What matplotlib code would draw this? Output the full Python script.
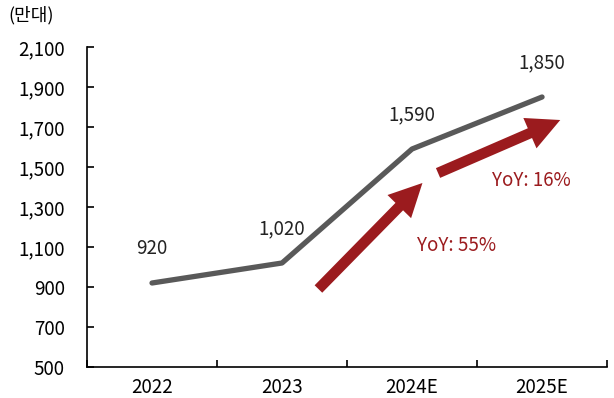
import matplotlib as mpl
mpl.use('Agg')
import matplotlib.pyplot as plt
from matplotlib.patches import FancyArrowPatch

plt.rcParams['font.family'] = ['Noto Sans CJK KR', 'DejaVu Sans']
plt.rcParams['font.weight'] = 'light'

years = ['2022', '2023', '2024E', '2025E']
units = [920, 1020, 1590, 1850]
yoy_labels = ['YoY: 55%', 'YoY: 16%']

line_color = '#595959'
arrow_color = '#9B1B1E'
fs = 13.5

fig = plt.figure(figsize=(6.14, 3.98), dpi=100)
ax = fig.add_axes([0.1417, 0.0779, 0.847, 0.804])

x = list(range(len(years)))
ax.plot(x, units, color=line_color, lw=3.8, solid_capstyle='round', solid_joinstyle='round')

for xi, v in zip(x, units):
    ax.annotate(f'{v:,}', (xi, v), xytext=(0, 17), textcoords='offset points',
                ha='center', va='bottom', fontsize=fs, color='#222222')

# growth arrows between years
arrows = [((1.28, 890), (2.08, 1420)), ((2.2, 1470), (3.14, 1735))]
for (p0, p1) in arrows:
    ax.add_patch(FancyArrowPatch(p0, p1, arrowstyle='simple,head_length=1.4,head_width=1.4,tail_width=0.45',
                                 mutation_scale=17, color=arrow_color, lw=0, shrinkA=0, shrinkB=0))

ax.text(2.34, 1105, yoy_labels[0], color=arrow_color, fontsize=fs, ha='center', va='center')
ax.text(2.92, 1435, yoy_labels[1], color=arrow_color, fontsize=fs, ha='center', va='center')

ax.set_xlim(-0.5, 3.5)
ax.set_ylim(500, 2100)
ax.set_yticks(range(500, 2101, 200))
ax.set_yticklabels([f'{v:,}' for v in range(500, 2101, 200)])
ax.set_xticks(x)
ax.set_xticklabels(years)
ax.set_xticks([-0.5, 0.5, 1.5, 2.5, 3.5], minor=True)
ax.tick_params(axis='x', which='major', length=0, pad=7, labelsize=fs)
ax.tick_params(axis='x', which='minor', direction='in', length=5, width=1.2)
ax.tick_params(axis='y', direction='in', length=5, width=1.2, pad=16, labelsize=fs)
for side in ['top', 'right']:
    ax.spines[side].set_visible(False)
for side in ['left', 'bottom']:
    ax.spines[side].set_linewidth(1.2)

fig.text(0.014, 0.962, '(만대)', fontsize=13, va='center', ha='left')

fig.savefig('out.png', dpi=100)
